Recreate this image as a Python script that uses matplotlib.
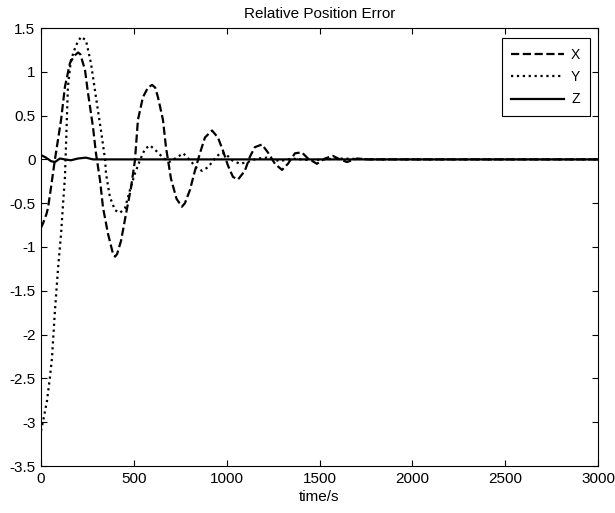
import matplotlib
matplotlib.use("Agg")
import matplotlib.pyplot as plt

plt.rcParams["font.family"] = ["Liberation Sans", "DejaVu Sans"]
plt.rcParams["font.size"] = 11

# values (time in s, error)
t_x = [0, 11, 30, 38, 54, 75, 81, 108, 129, 156, 170, 183, 200, 212, 237, 253,
       280, 296, 318, 334, 361, 388, 399, 410, 431, 458, 485, 506, 522, 549, 576,
       598, 615, 630, 657, 673, 700, 730, 759, 775, 802, 829, 856, 883, 921, 953,
       980, 1007, 1034, 1061, 1098, 1125, 1152, 1190, 1222, 1260, 1298, 1330,
       1368, 1405, 1438, 1486, 1529, 1572, 1610, 1648, 1702, 1760, 1850, 2000,
       3000]
err_x = [-0.78, -0.73, -0.62, -0.55, -0.32, 0.0, 0.08, 0.45, 0.83, 1.10, 1.15,
         1.19, 1.22, 1.20, 1.02, 0.76, 0.37, 0.07, -0.24, -0.55, -0.85, -1.08,
         -1.11, -1.08, -0.93, -0.62, -0.32, -0.01, 0.45, 0.71, 0.82, 0.85, 0.82,
         0.71, 0.45, 0.14, -0.22, -0.45, -0.54, -0.50, -0.35, -0.13, 0.07, 0.25,
         0.33, 0.25, 0.10, -0.07, -0.20, -0.23, -0.13, 0.03, 0.14, 0.17, 0.08,
         -0.05, -0.12, -0.05, 0.07, 0.08, 0.01, -0.05, 0.01, 0.04, 0.0, -0.03,
         0.01, 0.0, 0.0, 0.0, 0.0]

t_y = [0, 11, 32, 48, 59, 75, 92, 108, 120, 129, 145, 161, 188, 215, 242, 269,
       296, 323, 345, 350, 371, 399, 425, 452, 479, 506, 533, 560, 587, 619, 657,
       690, 730, 766, 802, 840, 867, 899, 937, 964, 991, 1029, 1071, 1114, 1163,
       1217, 1287, 1350, 1450, 1600, 1800, 3000]
err_y = [-3.10, -2.99, -2.76, -2.49, -2.27, -1.73, -1.24, -0.85, -0.47, -0.20,
         0.83, 1.13, 1.30, 1.40, 1.36, 1.10, 0.71, 0.33, 0.0, -0.16, -0.43, -0.58,
         -0.61, -0.56, -0.35, -0.16, -0.01, 0.12, 0.16, 0.10, 0.02, -0.03, 0.02,
         0.07, -0.01, -0.10, -0.13, -0.09, 0.01, 0.07, 0.07, -0.01, -0.05, -0.03,
         0.01, 0.02, -0.02, 0.01, -0.01, 0.01, 0.0, 0.0]

t_z = [0, 27, 54, 75, 102, 129, 161, 199, 242, 280, 320, 3000]
err_z = [0.05, 0.02, -0.02, -0.03, 0.01, 0.0, -0.01, 0.01, 0.02, 0.0, 0.0, 0.0]

fig = plt.figure(figsize=(6.15, 5.13), dpi=100)
ax = fig.add_axes([41 / 615, 47 / 513, 557 / 615, 438 / 513])

ax.plot(t_x, err_x, color="black", linestyle="--", linewidth=1.6, label="X")
ax.plot(t_y, err_y, color="black", linestyle=":", linewidth=1.6, label="Y")
ax.plot(t_z, err_z, color="black", linestyle="-", linewidth=1.6, label="Z")

ax.set_xlim(0, 3000)
ax.set_ylim(-3.5, 1.5)
ax.set_xticks(range(0, 3001, 500))
ax.set_yticks([-3.5, -3, -2.5, -2, -1.5, -1, -0.5, 0, 0.5, 1, 1.5])
ax.set_yticklabels(["-3.5", "-3", "-2.5", "-2", "-1.5", "-1", "-0.5", "0", "0.5", "1", "1.5"])
ax.tick_params(direction="in", top=True, right=True, length=4, width=0.8, pad=4)
for s in ax.spines.values():
    s.set_linewidth(0.8)

ax.set_title("Relative Position Error", fontsize=11, pad=7)
ax.set_xlabel("time/s", labelpad=3)

leg = ax.legend(loc="upper right", bbox_to_anchor=(0.9856, 0.977), borderaxespad=0,
                fancybox=False, framealpha=1, edgecolor="black", handlelength=3.8,
                labelspacing=0.6, handletextpad=0.5, borderpad=0.7, fontsize=10)
leg.get_frame().set_linewidth(0.8)

fig.savefig("out.png", dpi=100)
